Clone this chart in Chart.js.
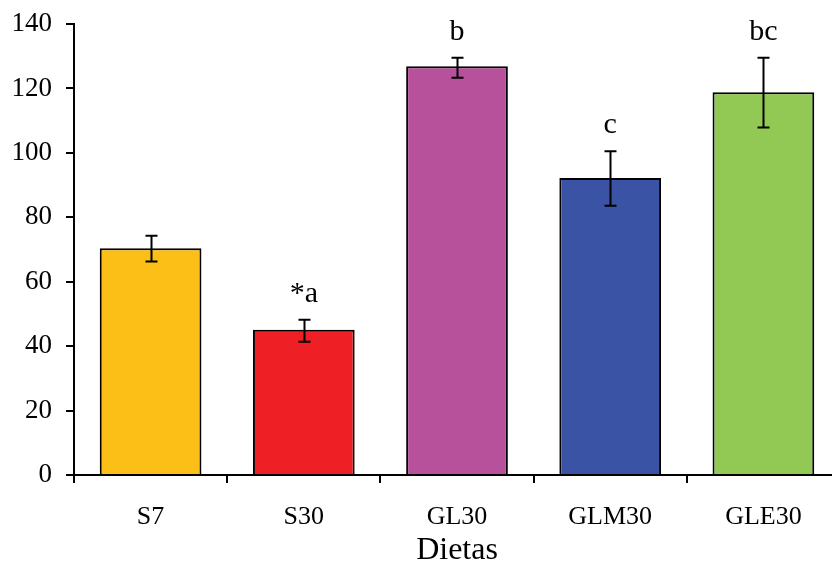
<!DOCTYPE html>
<html>
<head>
<meta charset="utf-8">
<script src="https://cdn.jsdelivr.net/npm/chart.js@4"></script>
<style>
  html, body { margin: 0; padding: 0; background: #fff; overflow: hidden; }
  #wrap { width: 842px; height: 563px; }
</style>
</head>
<body>
<div id="wrap"><canvas id="dietas" width="842" height="563"></canvas></div>
<script>
// data
const categories = ['S7', 'S30', 'GL30', 'GLM30', 'GLE30'];
const means = [70.4, 45.1, 126.9, 92.2, 118.8];
const errLow = [66.3, 41.4, 123.3, 83.6, 107.9];
const errHigh = [74.3, 48.2, 129.5, 100.5, 129.5];
const letters = ['', '*a', 'b', 'c', 'bc'];
const yTicks = [0, 20, 40, 60, 80, 100, 120, 140];

const barColors = ['#FBBF17', '#EE2025', '#B8519B', '#3A53A4', '#92C954'];
const serif = '"Liberation Serif", "Times New Roman", serif';

// error bars + significance letters
const errorBars = {
	id: 'errorBars',
	afterDatasetsDraw(chart) {
		const ctx = chart.ctx;
		const y = chart.scales.y;
		const meta = chart.getDatasetMeta(0);
		ctx.save();
		ctx.strokeStyle = '#000';
		ctx.lineWidth = 2;
		meta.data.forEach((bar, i) => {
			const top = y.getPixelForValue(errHigh[i]);
			const bot = y.getPixelForValue(errLow[i]);
			const x = Math.round(bar.x) + 0.5;
			ctx.beginPath();
			ctx.moveTo(x, top); ctx.lineTo(x, bot);
			ctx.moveTo(x - 6, top); ctx.lineTo(x + 6, top);
			ctx.moveTo(x - 6, bot); ctx.lineTo(x + 6, bot);
			ctx.stroke();
			if (letters[i]) {
				ctx.fillStyle = '#000';
				ctx.font = '30px ' + serif;
				ctx.textAlign = 'center';
				ctx.textBaseline = 'alphabetic';
				ctx.fillText(letters[i], bar.x, top - 18);
			}
		});
		ctx.restore();
	}
};

new Chart(document.getElementById('dietas').getContext('2d'), {
	type: 'bar',
	data: {
		labels: categories,
		datasets: [{
			data: means,
			backgroundColor: barColors,
			borderColor: '#000',
			borderWidth: 2,
			borderSkipped: 'start',
			categoryPercentage: 1,
			barPercentage: 0.664,
		}],
	},
	options: {
		responsive: false,
		animation: false,
		layout: { padding: { top: 24, right: 2, left: 0, bottom: 0 } },
		plugins: { legend: { display: false }, tooltip: { enabled: false } },
		scales: {
			x: {
				grid: { offset: true, drawOnChartArea: false, tickLength: 8, color: '#000', lineWidth: 2 },
				border: { color: '#000', width: 2 },
				ticks: { color: '#000', font: { family: serif, size: 26 }, padding: 19 },
				title: { display: true, text: 'Dietas', color: '#000', font: { family: serif, size: 32, lineHeight: 0.8 }, padding: 0 },
				afterFit: (s) => { s.height = 88; s.paddingLeft = 0; s.paddingRight = 0; },
			},
			y: {
				min: 0,
				max: 140,
				afterBuildTicks: (s) => { s.ticks = yTicks.map(v => ({ value: v })); },
				grid: { drawOnChartArea: false, tickLength: 8, color: '#000', lineWidth: 2 },
				border: { color: '#000', width: 2 },
				ticks: { color: '#000', font: { family: serif, size: 27 }, padding: 14 },
				afterFit: (s) => { s.width = 74; s.paddingTop = 0; s.paddingBottom = 0; },
			},
		},
	},
	plugins: [errorBars],
});
</script>
</body>
</html>
